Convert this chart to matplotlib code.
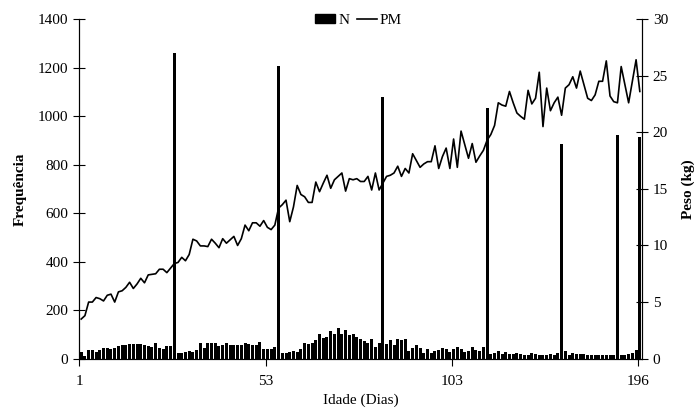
import matplotlib.pyplot as plt
from matplotlib.patches import Patch
from matplotlib.lines import Line2D
import numpy as np

plt.rcParams['font.family'] = 'Liberation Serif'

# N (frequencia) por categoria de idade, 151 categorias
freq = [27, 11, 37, 37, 27, 34, 44, 44, 38, 44, 51, 58, 58, 62, 62, 62, 59, 58, 52, 47,
        65, 44, 41, 52, 52, 1258, 25, 25, 27, 31, 29, 34, 66, 44, 66, 66, 66, 52, 58, 65,
        58, 58, 55, 55, 66, 62, 55, 58, 69, 41, 41, 41, 48, 1207, 23, 25, 29, 31, 29, 41,
        65, 59, 65, 76, 100, 85, 89, 113, 103, 126, 103, 117, 99, 103, 89, 82, 71, 66, 80, 48,
        66, 1077, 62, 76, 58, 80, 76, 80, 30, 44, 58, 44, 25, 38, 23, 30, 36, 44, 38, 27,
        41, 48, 38, 27, 30, 48, 34, 30, 48, 1034, 21, 23, 31, 21, 27, 18, 21, 23, 18, 14,
        14, 23, 21, 14, 14, 14, 21, 14, 25, 885, 30, 14, 25, 21, 18, 21, 14, 16, 14, 16,
        14, 14, 14, 16, 920, 14, 16, 21, 25, 34, 915]

# PM (peso medio, kg)
peso = [3.5, 3.8, 5.0, 5.0, 5.4, 5.3, 5.1, 5.6, 5.7, 5.0, 5.9, 6.0, 6.3, 6.75, 6.2, 6.6, 7.1, 6.7, 7.4, 7.45,
        7.5, 7.9, 7.9, 7.6, 8.0, 8.4, 8.5, 8.95, 8.65, 9.2, 10.55, 10.4, 9.96, 9.96, 9.9, 10.55, 10.2, 9.8, 10.6, 10.2,
        10.5, 10.8, 10.0, 10.6, 11.8, 11.3, 12.0, 12.0, 11.7, 12.2, 11.6, 11.4, 11.8, 13.3, 13.6, 14.0, 12.1, 13.4, 15.3, 14.5,
        14.3, 13.8, 13.8, 15.6, 14.75, 15.5, 16.2, 15.05, 15.8, 16.1, 16.4, 14.8, 15.9, 15.8, 15.9, 15.65, 15.65, 16.1, 14.9, 16.4,
        14.9, 15.5, 16.1, 16.2, 16.4, 17.0, 16.1, 16.8, 16.4, 18.1, 17.5, 16.9, 17.2, 17.4, 17.4, 18.8, 16.8, 17.85, 18.6, 16.8,
        19.4, 16.9, 20.1, 18.9, 17.7, 19.0, 17.35, 17.9, 18.4, 19.3, 19.8, 20.6, 22.6, 22.4, 22.3, 23.6, 22.6, 21.7, 21.4, 21.15,
        23.7, 22.5, 23.0, 25.3, 20.5, 23.9, 21.9, 22.6, 23.1, 21.5, 23.9, 24.2, 24.9, 23.9, 25.4, 24.2, 23.0, 22.8, 23.3, 24.5,
        24.5, 26.3, 23.2, 22.7, 22.6, 25.8, 24.2, 22.6, 24.5, 26.4, 23.6]

tick_labels = ['1', '53', '103', '196']
tick_idx = [0, 50, 100, 150]

x = np.arange(len(freq))

fig = plt.figure(figsize=(6.94, 4.15), dpi=100)
ax = fig.add_axes([0.1143, 0.1357, 0.8103, 0.8185])
ax.bar(x, freq, width=0.8, color='black', zorder=2)
ax.set_xlim(-0.5, 150.5)
ax.set_ylim(0, 1400)
ax.set_yticks(range(0, 1401, 200))
ax.set_xticks([i - 0.5 for i in tick_idx])
ax.set_xticklabels(tick_labels)
ax.tick_params(axis='x', direction='out', length=5, labelsize=11, pad=7)
ax.tick_params(axis='y', direction='inout', length=9, labelsize=11)
ax.set_ylabel('Frequência', fontsize=11, fontweight='bold', labelpad=8)
ax.set_xlabel('Idade (Dias)', fontsize=11, labelpad=4)
ax.spines['top'].set_visible(False)

ax2 = ax.twinx()
ax2.plot(x, peso, color='black', lw=1.2, zorder=3)
ax2.set_ylim(0, 30)
ax2.set_yticks(range(0, 31, 5))
ax2.tick_params(axis='y', direction='inout', length=9, labelsize=11)
ax2.set_ylabel('Peso (kg)', fontsize=11, fontweight='bold', labelpad=10)
ax2.spines['top'].set_visible(False)

handles = [Patch(facecolor='black', edgecolor='black'), Line2D([], [], color='black', lw=1.2)]
fig.legend(handles, ['N', 'PM'], loc='upper center', bbox_to_anchor=(0.517, 1.0), ncol=2,
           frameon=False, fontsize=11, handlelength=1.3, handleheight=0.6,
           handletextpad=0.2, columnspacing=0.5)

plt.savefig('out.png', dpi=100)
